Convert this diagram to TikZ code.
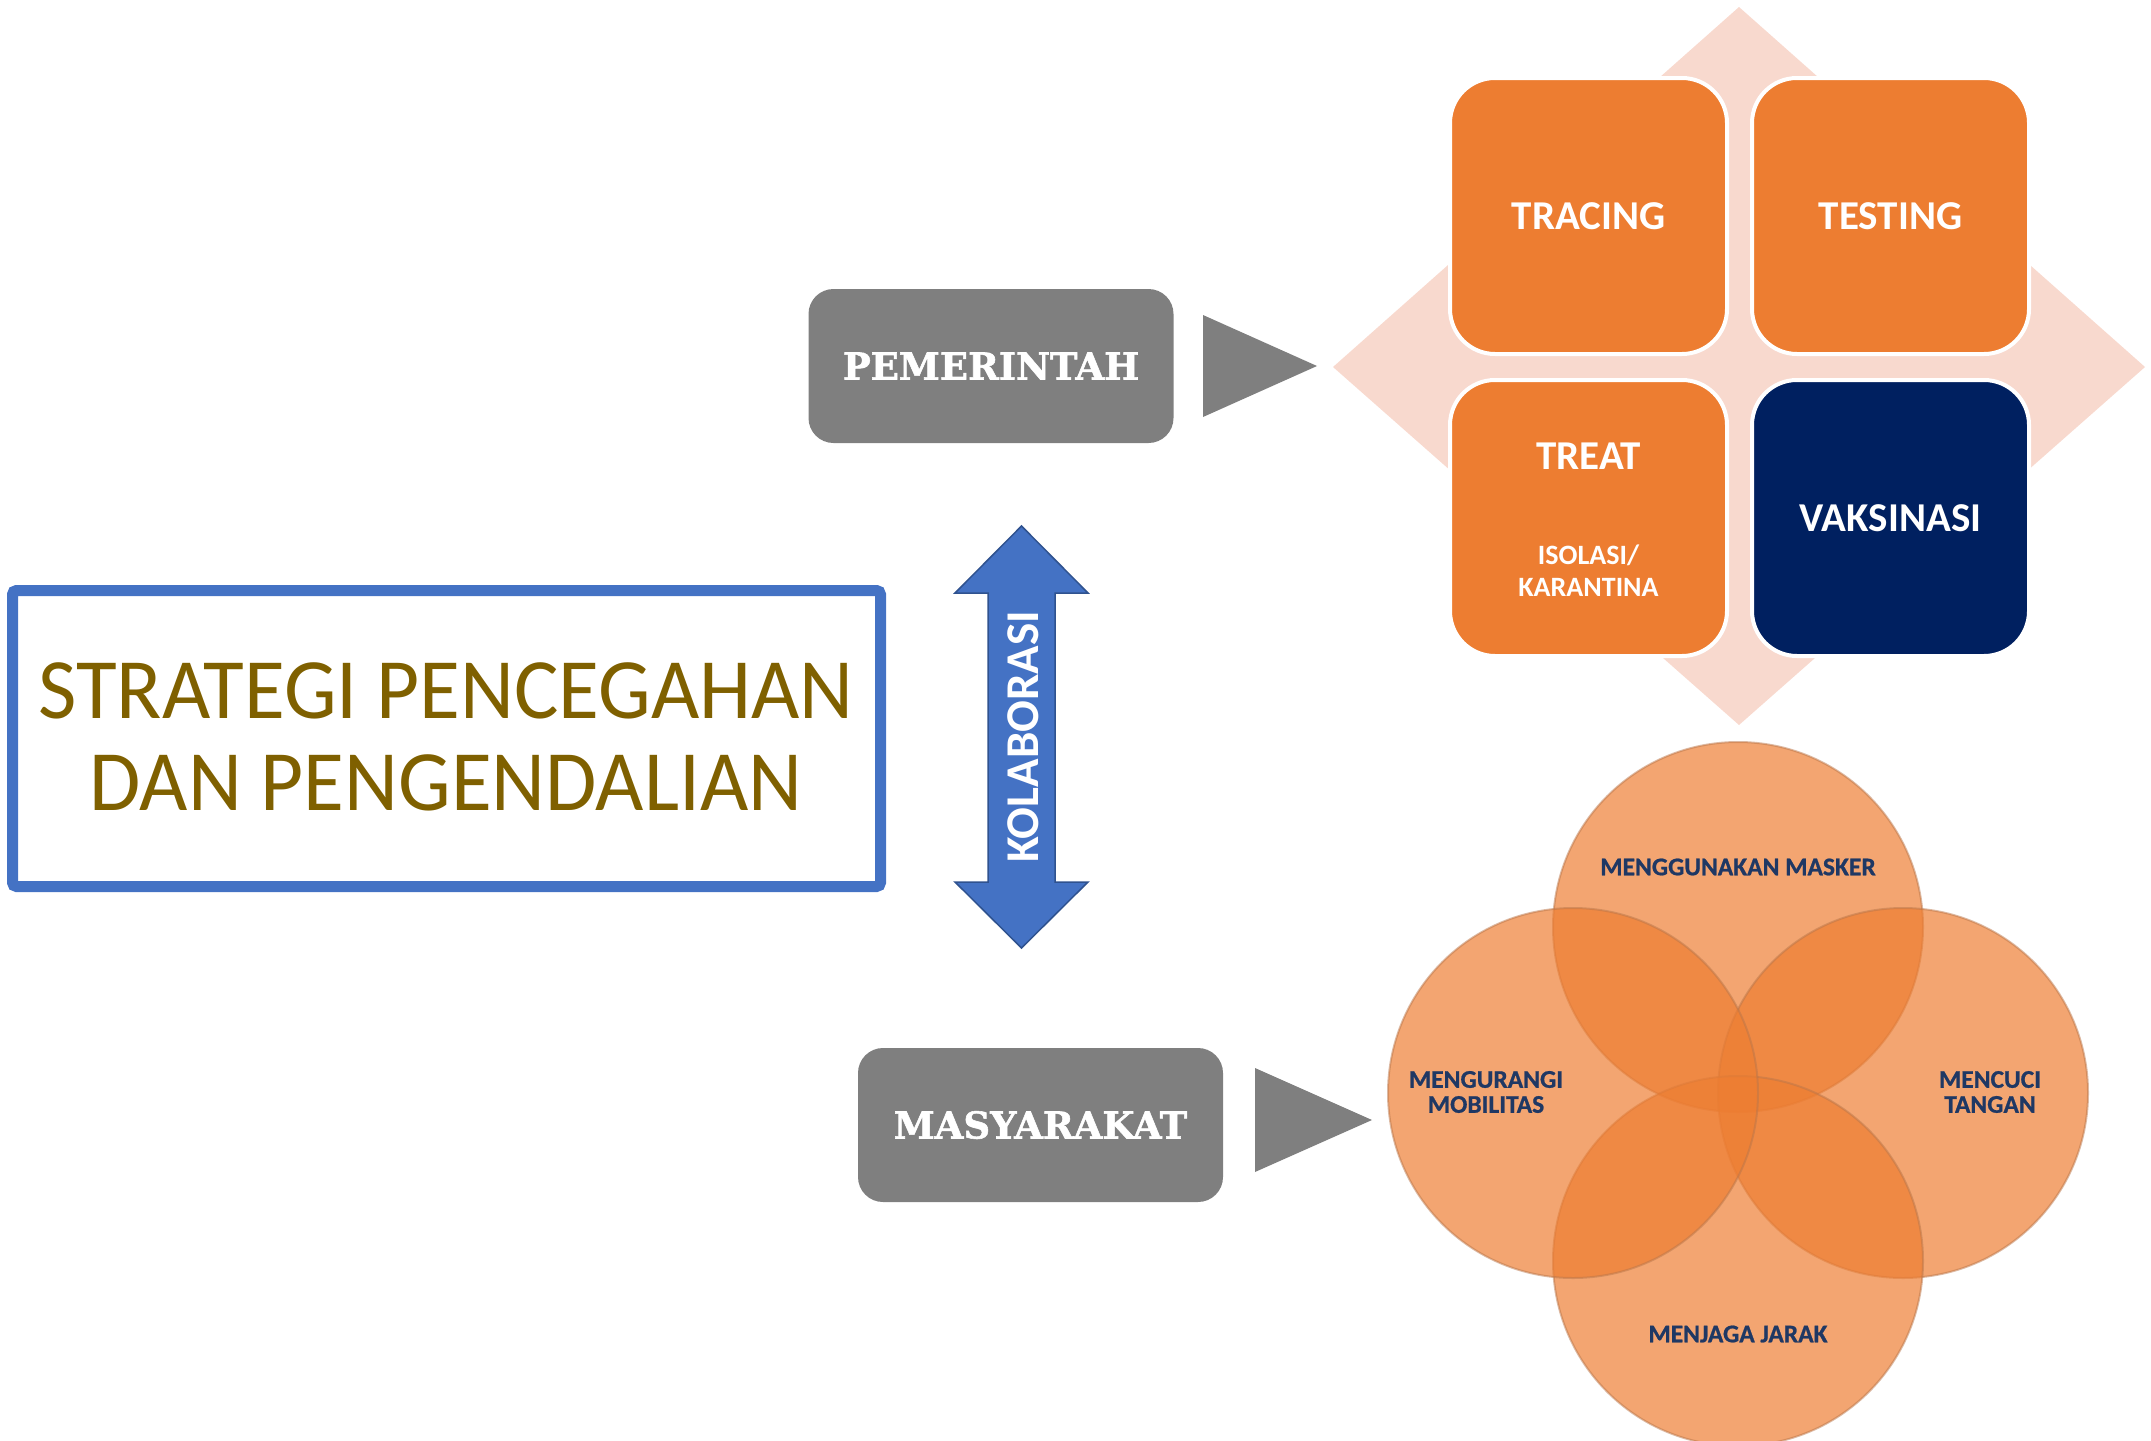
\documentclass[tikz,border=0pt]{standalone}
\usepackage{fontspec}
\setmainfont{Carlito}
\newfontfamily\slabfont{DejaVu Serif}[BoldFeatures={FakeBold=1.5}]
\newfontfamily\vennfont{Carlito}[BoldFeatures={FakeBold=0.8}]
\definecolor{orng}{HTML}{ED7D31}
\definecolor{navy}{HTML}{002060}
\definecolor{peach}{HTML}{F8D9CE}
\definecolor{boxgray}{HTML}{7F7F7F}
\definecolor{blueone}{HTML}{4472C4}
\definecolor{bluedark}{HTML}{2F528F}
\definecolor{olive}{HTML}{7F6000}
\definecolor{venntxt}{HTML}{1F3864}
\definecolor{vennedge}{HTML}{B9764B}
\begin{document}
\begin{tikzpicture}[x=1pt,y=-1pt,
  graybox/.style={rectangle, rounded corners=25pt, fill=boxgray, text=white,
    font=\slabfont\bfseries\fontsize{37}{42}\selectfont,
    minimum width=365pt, minimum height=154pt, inner sep=0pt},
  tile/.style={rectangle, rounded corners=45pt, draw=white, line width=4pt,
    minimum width=277pt, minimum height=276pt, inner sep=0pt},
  tiletext/.style={text=white, font=\bfseries\fontsize{41}{45}\selectfont, inner sep=0pt},
  smalltile/.style={text=white, font=\bfseries\fontsize{28}{32}\selectfont, align=center, inner sep=0pt},
  venn/.style={circle, minimum size=370pt, inner sep=0pt, fill=orng, fill opacity=0.69,
    draw=vennedge, draw opacity=0.5, line width=2pt},
  venntext/.style={text=venntxt, font=\vennfont\bfseries\fontsize{25.5}{25}\selectfont, align=center, inner sep=0pt},
  pointer/.style={fill=boxgray},
  titletext/.style={anchor=base, text=olive, font=\fontsize{86}{90}\selectfont, inner sep=0pt}
]
\useasboundingbox (0,0) rectangle (2151,1440);

% title box
\node[draw=blueone, line width=11pt, rounded corners=4pt, minimum width=868pt,
      minimum height=296pt, inner sep=0pt] (titlebox) at (446.5,738.5) {};
\node[titletext] (title1) at (446,718) {\scalebox{0.97}[1]{STRATEGI PENCEGAHAN}};
\node[titletext] (title2) at (446,810) {\scalebox{0.97}[1]{DAN PENGENDALIAN}};

% collaboration double arrow
\filldraw[fill=blueone, draw=bluedark, line width=1.5pt, line join=miter]
  (1021.5,526) -- (1088,593) -- (1055,593) -- (1055,882) -- (1088,882)
  -- (1021.5,948) -- (955,882) -- (988,882) -- (988,593) -- (955,593) -- cycle;
\node[rotate=90, text=white, font=\bfseries\fontsize{47}{50}\selectfont, inner sep=0pt]
  (kolab) at (1023,737) {KOLABORASI};

% gray boxes
\node[graybox] (pem) at (991,366) {PEMERINTAH};
\node[graybox] (mas) at (1040.5,1125) {MASYARAKAT};

% pointers
\fill[pointer] (1203,315) -- (1317,366) -- (1203,417) -- cycle;
\fill[pointer] (1255,1068) -- (1372,1120) -- (1255,1172) -- cycle;

% diamond background
\fill[peach] (1739,7) -- (2145,367) -- (1739,725) -- (1333,367) -- cycle;

% tiles
\node[tile, fill=orng] (tracing) at (1588.5,216) {};
\node[tile, fill=orng] (testing) at (1890.5,216) {};
\node[tile, fill=orng] (treat) at (1588.5,518) {};
\node[tile, fill=navy] (vaksin) at (1890.5,518) {};
\node[tiletext] (tracingtxt) at (tracing) {TRACING};
\node[tiletext] (testingtxt) at (testing) {TESTING};
\node[tiletext] (treattxt) at (1588.5,456) {TREAT};
\node[smalltile] (isolasi) at (1588.5,571) {ISOLASI/\\KARANTINA};
\node[tiletext] (vaksintxt) at (1890.5,518) {VAKSINASI};

% venn
\node[venn] (cmasker) at (1738,927) {};
\node[venn] (ctangan) at (1903,1093) {};
\node[venn] (cjarak) at (1738,1261) {};
\node[venn] (cmobil) at (1573,1093) {};
\node[venntext] (tmasker) at (1738,867) {MENGGUNAKAN MASKER};
\node[venntext] (tmobil) at (1486,1092) {MENGURANGI\\MOBILITAS};
\node[venntext] (ttangan) at (1990,1092) {MENCUCI\\TANGAN};
\node[venntext] (tjarak) at (1738,1334) {MENJAGA JARAK};
\end{tikzpicture}
\end{document}
